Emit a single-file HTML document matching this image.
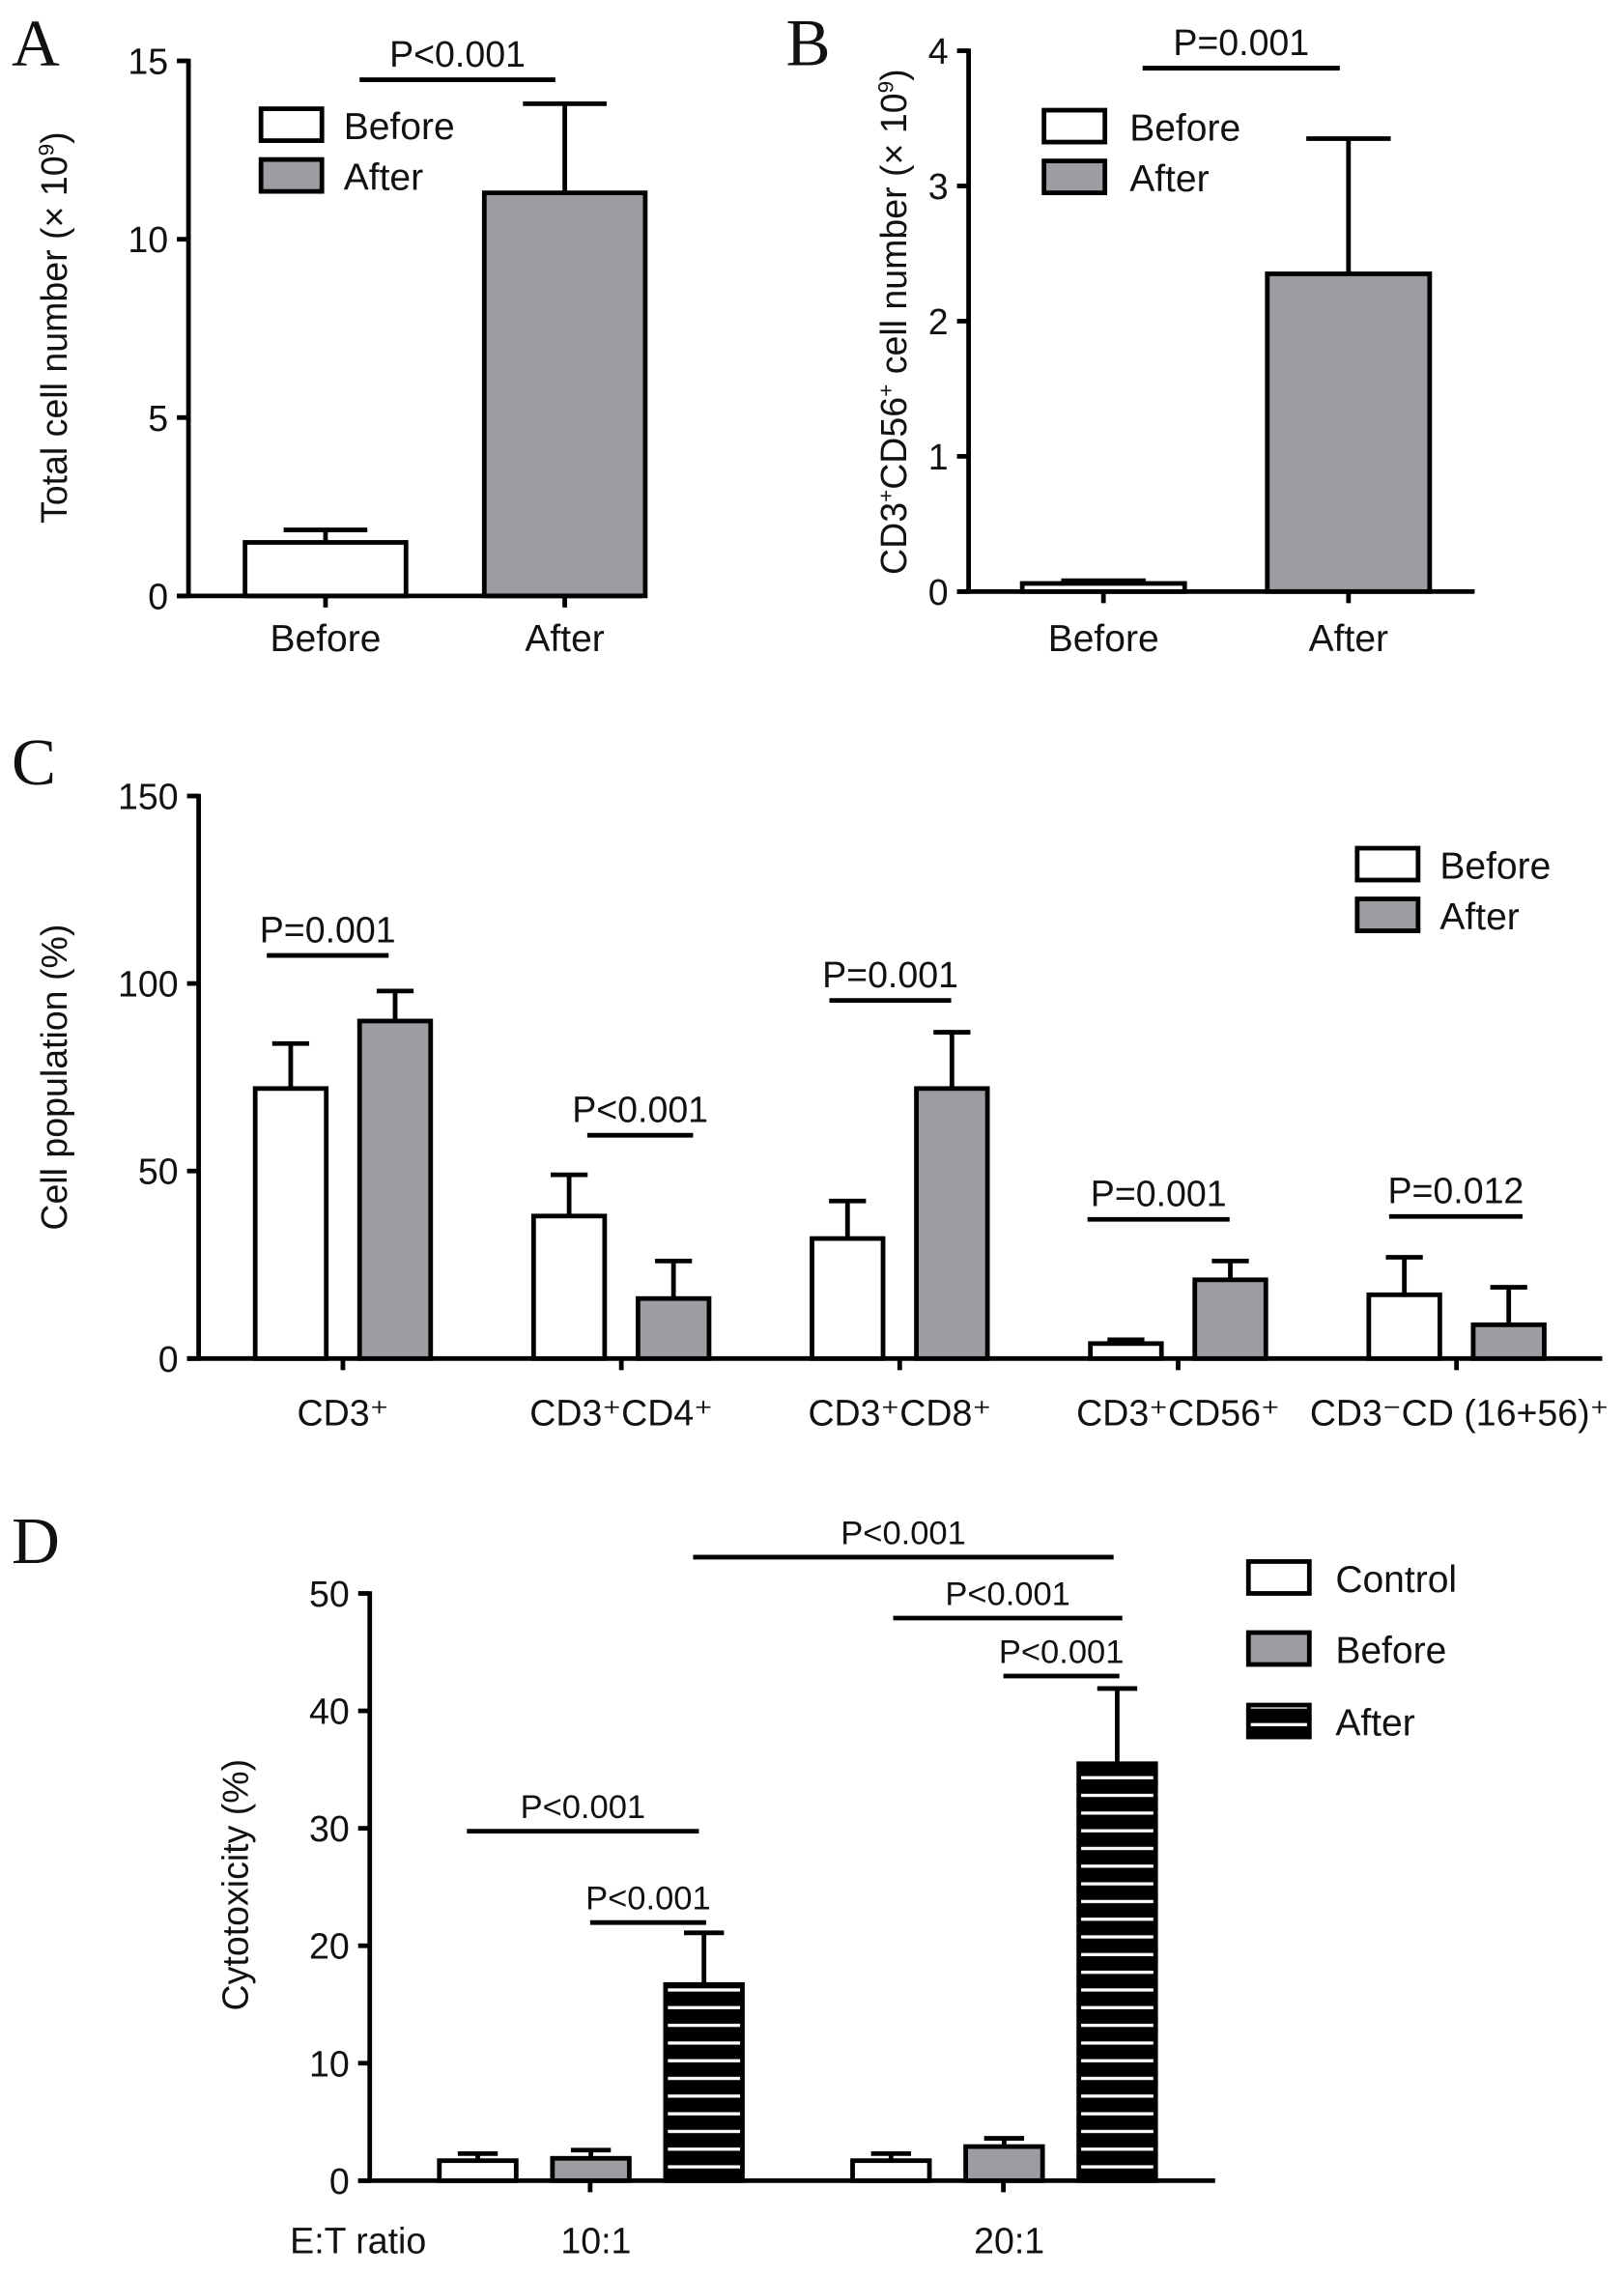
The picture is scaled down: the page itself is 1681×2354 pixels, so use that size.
<!DOCTYPE html>
<html><head><meta charset="utf-8"><style>
html,body{margin:0;padding:0;background:#fff}
svg{display:block}
text{font-family:"Liberation Sans",sans-serif;fill:#111}
.lt{font-family:"Liberation Serif",serif;font-size:46px}
</style></head><body>
<svg id="fig" width="1681" height="2354" viewBox="0 0 1120 1568.4" xmlns="http://www.w3.org/2000/svg">
<defs>
<pattern id="hatch" width="10" height="12.2" patternUnits="userSpaceOnUse">
<rect width="10" height="12.2" fill="#000"/><rect y="5" width="10" height="2.2" fill="#fff"/>
</pattern>
</defs>
<text class="lt" x="8" y="45">A</text>
<text class="lt" x="542" y="45">B</text>
<text class="lt" x="8" y="541">C</text>
<text class="lt" x="8" y="1078">D</text>
<g id="gA"></g>
<g id="gB"></g>
<g id="gC"></g>
<g id="gD"></g>
</svg>
<script>
// Panel A data
const aCategories = ["Before","After"];
const aValues = [1.5, 11.3];
const aErrors = [1.85, 13.8];
const aTicks = [0,5,10,15];
// Panel B data
const bCategories = ["Before","After"];
const bValues = [0.06, 2.35];
const bErrors = [0.08, 3.35];
const bTicks = [0,1,2,3,4];
// Panel C data
const cCategories = ["CD3⁺","CD3⁺CD4⁺","CD3⁺CD8⁺","CD3⁺CD56⁺","CD3⁻CD (16+56)⁺"];
const cBefore = [72, 38, 32, 4, 17];
const cBeforeErr = [84, 49, 42, 5, 27];
const cAfter = [90, 16, 72, 21, 9];
const cAfterErr = [98, 26, 87, 26, 19];
const cPvals = ["P=0.001","P<0.001","P=0.001","P=0.001","P=0.012"];
const cTicks = [0,50,100,150];
// Panel D data
const dCategories = ["10:1","20:1"];
const dControl = [1.7, 1.7];
const dControlErr = [2.3, 2.3];
const dBefore = [1.9, 2.9];
const dBeforeErr = [2.6, 3.6];
const dAfter = [16.7, 35.5];
const dAfterErr = [21.1, 41.9];
const dTicks = [0,10,20,30,40,50];

const NS="http://www.w3.org/2000/svg";
function mk(parent,tag,attrs,txt){const e=document.createElementNS(NS,tag);for(const k in attrs)e.setAttribute(k,attrs[k]);if(txt!==undefined)e.textContent=txt;parent.appendChild(e);return e;}
function scale(d0,d1,r0,r1){return v=>r0+(v-d0)/(d1-d0)*(r1-r0);}
const LW=3.2;

function axes(g,ax,y0,y1,xEnd,ticks,ys,fs){
  let e=mk(g,'line',{x1:ax,y1:y1-1.5,x2:ax,y2:y0+1.5,stroke:'#000','stroke-width':LW});
  
  
  e=mk(g,'line',{x1:ax-8,y1:y0,x2:xEnd,y2:y0,stroke:'#000','stroke-width':LW});
  
  
  ticks.forEach(t=>{
    const y=ys(t);
    let l=mk(g,'line',{x1:ax-8,y1:y,x2:ax,y2:y,stroke:'#000','stroke-width':LW});
    
    
    let tx=mk(g,'text',{x:ax-14,y:y+9,'text-anchor':'end','font-size':fs},String(t));
    
    
  });
}
function bar(g,x,w,v,err,ys,fill,name){
  const y0=ys(0),yt=ys(v),ye=ys(err),cx=x+w/2;
  let l=mk(g,'line',{x1:cx,y1:yt,x2:cx,y2:ye,stroke:'#000','stroke-width':LW});
  
  
  l=mk(g,'line',{x1:cx-w*0.26,y1:ye,x2:cx+w*0.26,y2:ye,stroke:'#000','stroke-width':LW});
  
  
  const r=mk(g,'rect',{x:x,y:yt,width:w,height:Math.max(0,y0-yt),fill:fill,stroke:'#000','stroke-width':LW});
  
  
}
function sig(g,x1,x2,y,txt,fs){
  let l=mk(g,'line',{x1:x1,y1:y,x2:x2,y2:y,stroke:'#000','stroke-width':LW});
  
  
  let t=mk(g,'text',{x:(x1+x2)/2,y:y-9,'text-anchor':'middle','font-size':fs},txt);
  
  
}
function legend(g,x,tx,ys,labels,fills,fs){
  labels.forEach((lb,i)=>{
    let r=mk(g,'rect',{x:x,y:ys[i]-11,width:42,height:22,fill:fills[i],stroke:'#000','stroke-width':LW});
    
    
    let t=mk(g,'text',{x:tx,y:ys[i]+10,'font-size':26},lb);
    
    
  });
}
function ytitle(g,x,y,content,fs){
  const t=mk(g,'text',{x:0,y:0,transform:`translate(${x},${y}) rotate(-90)`,'text-anchor':'middle','font-size':fs});
  t.innerHTML=content;
  
  
}
const GRAY='#9c9ca2';

// ---- Panel A ----
(function(){
  const g=document.getElementById('gA');
  const ys=scale(0,15,411,42);
  axes(g,130,411,42,443,aTicks,ys,25);
  const xs=[169,334], w=111, fills=['#fff',GRAY];
  aCategories.forEach((c,i)=>{
    bar(g,xs[i],w,aValues[i],aErrors[i],ys,fills[i],'bar-'+c.toLowerCase());
    const cx=xs[i]+w/2;
    let l=mk(g,'line',{x1:cx,y1:411,x2:cx,y2:419,stroke:'#000','stroke-width':LW});
    
    
    let t=mk(g,'text',{x:cx,y:449,'text-anchor':'middle','font-size':26},c);
    
    
  });
  sig(g,248,383,55,'P<0.001',25);
  legend(g,180,237,[86,121],['Before','After'],['#fff',GRAY]);
  ytitle(g,46,226,'Total cell number (× 10<tspan dy="-9" font-size="15">9</tspan><tspan dy="9">)</tspan>',25);
})();
// ---- Panel B ----
(function(){
  const g=document.getElementById('gB');
  const ys=scale(0,4,408,35);
  axes(g,668,408,35,1017,bTicks,ys,25);
  const xs=[705,874], w=112, fills=['#fff',GRAY];
  bCategories.forEach((c,i)=>{
    bar(g,xs[i],w,bValues[i],bErrors[i],ys,fills[i],'bar-'+c.toLowerCase());
    const cx=xs[i]+w/2;
    let l=mk(g,'line',{x1:cx,y1:408,x2:cx,y2:416,stroke:'#000','stroke-width':LW});
    
    
    let t=mk(g,'text',{x:cx,y:449,'text-anchor':'middle','font-size':26},c);
    
    
  });
  sig(g,788,924,47,'P=0.001',25);
  legend(g,720,779,[87,122],['Before','After'],['#fff',GRAY]);
  ytitle(g,625,222,'CD3<tspan dy="-9" font-size="15">+</tspan><tspan dy="9">CD56</tspan><tspan dy="-9" font-size="15">+</tspan><tspan dy="9"> cell number (× 10</tspan><tspan dy="-9" font-size="15">9</tspan><tspan dy="9">)</tspan>',25);
})();
// ---- Panel C ----
(function(){
  const g=document.getElementById('gC');
  const ys=scale(0,150,937,549);
  axes(g,137,937,549,1105,cTicks,ys,25);
  const bx=[176,368,560,752,944], w=49, gap=72;
  const sigs=[[184,268,659],[405,478,783],[572,656,690],[750,848,841],[958,1050,839]];
  cCategories.forEach((c,i)=>{
    bar(g,bx[i],w,cBefore[i],cBeforeErr[i],ys,'#fff','bar-before-'+i);
    bar(g,bx[i]+gap,w,cAfter[i],cAfterErr[i],ys,GRAY,'bar-after-'+i);
    const cx=bx[i]+(gap+w)/2;
    let l=mk(g,'line',{x1:cx,y1:937,x2:cx,y2:945,stroke:'#000','stroke-width':LW});
    
    
    let t=mk(g,'text',{x:cx+(i==4?2:0),y:983,'text-anchor':'middle','font-size':25},c);
    
    
    sig(g,sigs[i][0],sigs[i][1],sigs[i][2],cPvals[i],25);
  });
  legend(g,936,993,[596,631],['Before','After'],['#fff',GRAY]);
  ytitle(g,46,743,'Cell population (%)',25);
})();
// ---- Panel D ----
(function(){
  const g=document.getElementById('gD');
  const ys=scale(0,50,1504,1099);
  axes(g,255,1504,1099,838,dTicks,ys,25);
  const gx=[303,588], w=53;
  dCategories.forEach((c,i)=>{
    bar(g,gx[i],w,dControl[i],dControlErr[i],ys,'#fff','bar-control-'+c);
    bar(g,gx[i]+78,w,dBefore[i],dBeforeErr[i],ys,GRAY,'bar-before-'+c);
    bar(g,gx[i]+156,w,dAfter[i],dAfterErr[i],ys,'url(#hatch)','bar-after-'+c);
    const cx=gx[i]+104;
    let l=mk(g,'line',{x1:cx,y1:1504,x2:cx,y2:1512,stroke:'#000','stroke-width':LW});
    
    
    let t=mk(g,'text',{x:cx+4,y:1554,'text-anchor':'middle','font-size':25},c);
    
    
  });
  let t=mk(g,'text',{x:200,y:1554,'font-size':25},'E:T ratio');
  
  
  sig(g,322,482,1263,'P<0.001',23);
  sig(g,407,487,1326,'P<0.001',23);
  sig(g,478,768,1074,'P<0.001',23);
  sig(g,616,774,1116,'P<0.001',23);
  sig(g,692,772,1156,'P<0.001',23);
  legend(g,861,921,[1088,1137,1187],['Control','Before','After'],['#fff',GRAY,'url(#hatch)']);
  ytitle(g,171,1300,'Cytotoxicity (%)',25);
})();
</script>
</body></html>
